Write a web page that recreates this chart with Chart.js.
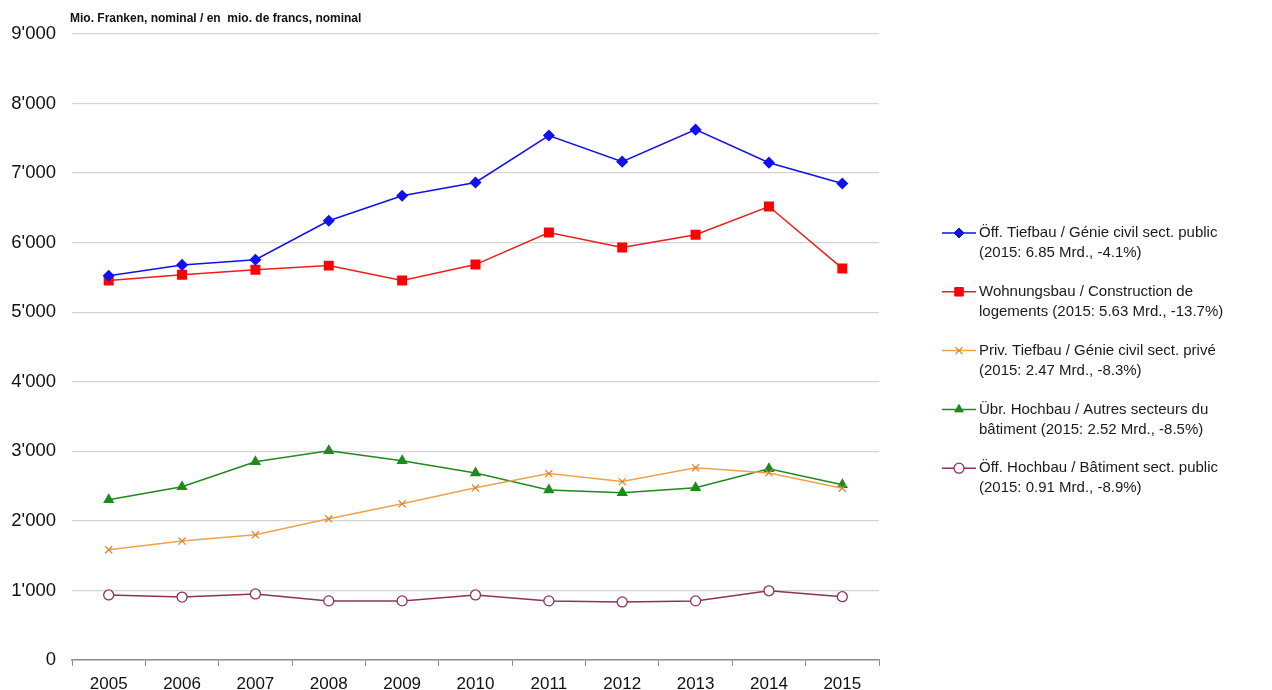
<!DOCTYPE html>
<html>
<head>
<meta charset="utf-8">
<script src="https://cdn.jsdelivr.net/npm/chart.js@4/dist/chart.umd.min.js"></script>
<style>
  html, body { margin: 0; padding: 0; background: #fff; }
  #wrap { width: 1272px; height: 690px; }
</style>
</head>
<body>
<div id="wrap"><canvas id="chart" width="1272" height="690"></canvas></div>
<script>
// Bauausgaben nach Sektor, Mio. Franken
const years = ['2005', '2006', '2007', '2008', '2009', '2010', '2011', '2012', '2013', '2014', '2015'];

const oeffTiefbau = [5525, 5680, 5755, 6315, 6675, 6865, 7540, 7165, 7625, 7150, 6850];
const wohnungsbau = [5455, 5540, 5610, 5670, 5455, 5685, 6145, 5930, 6115, 6520, 5630];
const privTiefbau = [1585, 1710, 1800, 2030, 2245, 2475, 2680, 2565, 2765, 2690, 2470];
const uebrHochbau = [2305, 2490, 2850, 3010, 2865, 2690, 2445, 2405, 2475, 2750, 2520];
const oeffHochbau = [935, 905, 950, 850, 850, 935, 850, 835, 850, 995, 910];

const legendLines = [
  ['Öff. Tiefbau / Génie civil sect. public', '(2015: 6.85 Mrd., -4.1%)'],
  ['Wohnungsbau / Construction de', 'logements (2015: 5.63 Mrd., -13.7%)'],
  ['Priv. Tiefbau / Génie civil sect. privé', '(2015: 2.47 Mrd., -8.3%)'],
  ['Übr. Hochbau / Autres secteurs du', 'bâtiment (2015: 2.52 Mrd., -8.5%)'],
  ['Öff. Hochbau / Bâtiment sect. public', '(2015: 0.91 Mrd., -8.9%)']
];

const unitTitle = 'Mio. Franken, nominal / en  mio. de francs, nominal';

const FONT = '"Liberation Sans", Arial, sans-serif';

// legend (two-line entries) + unit title, drawn on the canvas
const sideLegend = {
  id: 'sideLegend',
  afterDraw(chart) {
    const ctx = chart.ctx;
    const area = chart.chartArea;
    ctx.save();
    ctx.fillStyle = '#111';
    ctx.font = 'bold 12px ' + FONT;
    ctx.textBaseline = 'alphabetic';
    ctx.fillText(unitTitle, area.left - 2, 22);

    const x0 = area.right + 63;
    let y = 233;
    chart.data.datasets.forEach((ds, i) => {
      ctx.strokeStyle = ds.borderColor;
      ctx.lineWidth = 1.5;
      ctx.beginPath();
      ctx.moveTo(x0, y);
      ctx.lineTo(x0 + 34, y);
      ctx.stroke();

      ctx.fillStyle = ds.pointBackgroundColor;
      ctx.strokeStyle = ds.pointBorderColor;
      ctx.lineWidth = ds.pointBorderWidth || 1;
      Chart.helpers.drawPoint(ctx, {
        pointStyle: ds.pointStyle,
        radius: ds.pointRadius,
        rotation: 0,
        borderWidth: ds.pointBorderWidth || 1
      }, x0 + 17, y);

      ctx.fillStyle = '#1a1a1a';
      ctx.font = '15px ' + FONT;
      ctx.textBaseline = 'middle';
      ctx.fillText(legendLines[i][0], x0 + 37, y);
      ctx.fillText(legendLines[i][1], x0 + 37, y + 20);
      y += 58.8;
    });
    ctx.restore();
  }
};

const ctx = document.getElementById('chart').getContext('2d');
new Chart(ctx, {
  type: 'line',
  data: {
    labels: years,
    datasets: [
      {
        label: legendLines[0].join(' '),
        data: oeffTiefbau,
        borderColor: '#1010f0',
        backgroundColor: '#1010f0',
        pointBackgroundColor: '#1010f0',
        pointBorderColor: '#1010f0',
        pointStyle: 'rectRot',
        pointRadius: 5,
        borderWidth: 1.5
      },
      {
        label: legendLines[1].join(' '),
        data: wohnungsbau,
        borderColor: '#ee1c1c',
        backgroundColor: '#ee1c1c',
        pointBackgroundColor: '#ff0000',
        pointBorderColor: '#ff0000',
        pointStyle: 'rect',
        pointRadius: 6,
        borderWidth: 1.5
      },
      {
        label: legendLines[2].join(' '),
        data: privTiefbau,
        borderColor: '#f0a248',
        backgroundColor: '#f0a248',
        pointBackgroundColor: '#f0a248',
        pointBorderColor: '#d9822e',
        pointStyle: 'crossRot',
        pointRadius: 5,
        pointBorderWidth: 1.2,
        borderWidth: 1.5
      },
      {
        label: legendLines[3].join(' '),
        data: uebrHochbau,
        borderColor: '#1f8a1f',
        backgroundColor: '#1f8a1f',
        pointBackgroundColor: '#1f8a1f',
        pointBorderColor: '#1f8a1f',
        pointStyle: 'triangle',
        pointRadius: 5,
        borderWidth: 1.5
      },
      {
        label: legendLines[4].join(' '),
        data: oeffHochbau,
        borderColor: '#8e3350',
        backgroundColor: '#ffffff',
        pointBackgroundColor: '#ffffff',
        pointBorderColor: '#8e3350',
        pointStyle: 'circle',
        pointRadius: 5,
        pointBorderWidth: 1.3,
        borderWidth: 1.5
      }
    ]
  },
  options: {
    responsive: false,
    animation: false,
    layout: { padding: { top: 34, right: 393, bottom: 0, left: 0 } },
    plugins: {
      legend: { display: false },
      title: { display: false },
      tooltip: { enabled: false }
    },
    scales: {
      x: {
        offset: true,
        grid: {
          offset: true,
          drawOnChartArea: false,
          drawTicks: true,
          tickLength: 6,
          color: '#8c8c8c'
        },
        border: { color: '#8c8c8c', width: 1.5 },
        ticks: { color: '#111', font: { size: 17, family: FONT }, padding: 8 },
        afterFit(scale) { scale.height = 30; }
      },
      y: {
        min: 0,
        max: 9000,
        ticks: {
          stepSize: 1000,
          color: '#111',
          font: { size: 18.5, family: FONT },
          padding: 16,
          callback: (v) => v === 0 ? '0' : (v / 1000) + "'000"
        },
        grid: { color: '#d4d4d4', lineWidth: 1.3, drawTicks: false },
        border: { display: false },
        afterFit(scale) { scale.width = 72; }
      }
    }
  },
  plugins: [sideLegend]
});
</script>
</body>
</html>
